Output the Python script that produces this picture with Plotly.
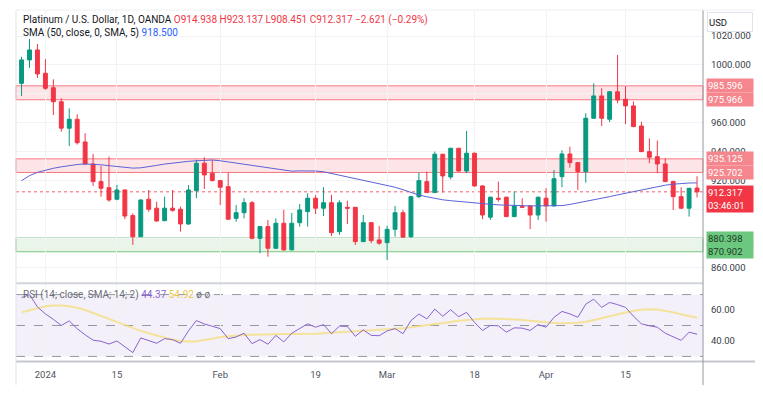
import plotly.graph_objects as go
import pandas as pd

# ---------------- data ----------------
dates = [d.strftime("%Y-%m-%d") for d in pd.bdate_range("2023-12-27", "2024-04-26")
         if d.strftime("%Y-%m-%d") not in ("2024-01-01", "2024-03-29")]

opens = [987.3, 1003.5, 1010.4, 994.3, 984.3, 974.6, 956.3, 962.5, 946.8, 931.6,
         919.4, 915.2, 907.2, 913.6, 895.9, 881.3, 907.2, 901.0, 892.4, 901.0,
         900.3, 890.1, 913.1, 932.1, 925.2, 920.1, 915.9, 894.0, 897.9, 904.8,
         880.2, 888.3, 873.3, 890.6, 872.2, 891.0, 898.6, 907.9, 901.0, 904.8,
         884.8, 901.6, 901.6, 877.9, 891.0, 879.1, 877.2, 886.4, 897.9, 881.3,
         909.0, 919.4, 911.8, 938.3, 922.6, 942.4, 926.7, 939.0, 916.4, 894.8,
         907.9, 908.6, 895.2, 902.1, 902.6, 896.3, 907.9, 902.6, 922.8, 938.5,
         932.5, 926.3, 963.2, 978.6, 962.5, 981.5, 976.3, 971.7, 957.8, 940.1,
         936.6, 931.6, 919.4, 909.0, 901.0, 914.938]
highs = [1005.7, 1018.0, 1014.5, 1004.0, 990.1, 977.0, 970.0, 966.0, 952.8, 938.5,
         930.2, 936.6, 917.1, 914.0, 897.5, 907.0, 913.6, 905.5, 909.0, 913.6,
         902.1, 917.0, 934.5, 936.2, 934.3, 920.5, 925.6, 903.2, 907.9, 906.0,
         888.5, 892.9, 894.0, 899.8, 897.7, 903.9, 911.3, 910.0, 915.5, 910.2,
         906.5, 906.2, 902.0, 896.3, 891.3, 888.8, 888.8, 902.6, 899.8, 909.3,
         925.6, 926.3, 940.1, 938.6, 942.8, 942.8, 954.4, 939.5, 916.8, 909.0,
         919.4, 909.0, 912.5, 907.9, 903.0, 909.0, 914.8, 927.4, 941.0, 943.5,
         932.8, 966.6, 987.3, 983.9, 981.8, 1006.9, 985.5, 974.7, 960.8, 949.3,
         947.7, 935.5, 920.0, 915.5, 915.0, 923.137]
lows = [978.6, 998.0, 991.0, 982.7, 965.4, 953.9, 944.0, 945.0, 931.0, 916.4,
        909.0, 905.5, 906.5, 893.4, 875.6, 881.0, 898.5, 891.5, 892.0, 898.6,
        884.8, 889.5, 907.9, 914.3, 919.5, 903.2, 893.0, 891.6, 894.0, 879.5,
        869.9, 867.5, 873.0, 871.5, 871.8, 888.3, 888.3, 897.0, 895.6, 881.8,
        882.5, 890.1, 875.6, 877.5, 876.8, 875.8, 865.2, 881.3, 880.5, 880.5,
        907.9, 911.5, 911.5, 911.8, 921.0, 926.3, 925.2, 915.8, 893.4, 892.9,
        905.5, 894.8, 894.8, 901.2, 886.5, 892.9, 891.7, 902.2, 915.5, 929.0,
        913.6, 918.7, 962.8, 957.8, 960.5, 973.5, 959.2, 957.0, 939.8, 932.1,
        925.2, 919.0, 899.8, 900.5, 895.2, 908.451]
closes = [1003.5, 1010.4, 993.8, 983.9, 974.6, 956.3, 962.5, 946.3, 931.6, 919.4,
          914.8, 906.7, 913.6, 895.6, 881.3, 906.7, 900.3, 892.2, 901.0, 899.5,
          890.1, 913.6, 932.1, 924.0, 920.1, 915.5, 893.4, 897.9, 904.8, 880.2,
          888.3, 873.3, 890.6, 872.2, 890.6, 899.8, 907.9, 901.0, 904.8, 884.1,
          904.8, 901.0, 877.9, 891.0, 878.6, 876.8, 886.4, 897.9, 881.0, 909.0,
          920.1, 911.8, 938.3, 923.3, 942.4, 926.7, 939.0, 916.4, 896.3, 908.6,
          907.2, 895.2, 902.6, 901.7, 896.3, 908.6, 902.6, 921.4, 938.5, 932.5,
          926.3, 963.2, 978.6, 963.2, 981.5, 975.8, 971.7, 957.4, 940.1, 936.2,
          931.6, 919.4, 909.0, 901.0, 914.8, 912.317]

sma50 = [920.0, 923.5, 925.8, 927.3, 928.6, 929.6, 930.5, 931.2, 931.6, 931.5,
         931.0, 930.4, 929.7, 929.1, 928.7, 928.9, 929.5, 930.6, 931.5, 932.3,
         932.9, 933.4, 933.8, 934.1, 934.3, 933.8, 933.0, 932.2, 931.3, 930.4,
         929.6, 928.7, 927.9, 927.1, 926.6, 926.8, 927.0, 926.7, 926.2, 925.0,
         923.7, 922.6, 921.5, 920.3, 919.2, 918.0, 916.7, 915.5, 913.8, 912.0,
         910.1, 908.9, 907.8, 906.8, 906.2, 905.6, 905.0, 904.5, 904.1, 903.7,
         903.3, 903.0, 902.8, 902.7, 902.6, 902.6, 902.6, 902.6, 902.8, 903.6,
         904.6, 905.7, 906.8, 907.9, 909.0, 910.2, 911.4, 912.5, 913.6, 914.7,
         915.8, 916.9, 917.6, 918.1, 918.4, 918.5]

rsi = [68.0, 70.0, 62.0, 57.5, 54.0, 50.0, 53.0, 47.9, 44.0, 40.5,
       39.8, 38.0, 40.0, 36.0, 32.5, 42.0, 40.5, 38.5, 41.5, 40.9,
       38.5, 46.5, 53.2, 51.0, 49.5, 48.0, 41.5, 42.6, 45.0, 38.3,
       40.9, 37.9, 43.6, 39.4, 45.0, 48.0, 51.1, 48.9, 50.6, 44.7,
       49.6, 49.4, 43.0, 47.2, 43.6, 43.4, 46.5, 48.0, 44.7, 53.2,
       57.4, 54.3, 60.6, 56.0, 60.2, 55.7, 58.5, 52.0, 46.8, 50.0,
       49.8, 45.7, 48.5, 48.3, 46.8, 50.6, 48.9, 55.3, 59.1, 57.5,
       55.3, 63.8, 67.0, 61.7, 64.9, 63.5, 61.7, 56.0, 51.1, 49.8,
       48.9, 45.0, 42.6, 40.4, 45.7, 44.37]

rsi_ma = [58.5, 60.0, 61.5, 62.5, 63.0, 63.0, 62.5, 61.5, 60.0, 58.0,
          56.0, 54.0, 52.0, 50.0, 48.0, 46.5, 45.0, 43.5, 42.0, 40.8,
          40.0, 39.6, 39.8, 40.5, 41.5, 42.5, 43.0, 43.5, 43.8, 44.0,
          44.2, 44.3, 44.4, 44.5, 44.5, 44.5, 44.6, 44.7, 45.0, 45.3,
          45.6, 45.9, 46.2, 46.5, 46.8, 47.1, 47.4, 47.8, 48.3, 48.9,
          49.5, 50.2, 50.9, 51.6, 52.3, 53.0, 53.6, 54.0, 54.3, 54.5,
          54.4, 54.2, 53.9, 53.5, 53.0, 52.5, 52.0, 51.6, 51.5, 51.5,
          51.8, 52.5, 53.5, 54.7, 56.0, 57.3, 58.5, 59.5, 60.2, 60.5,
          60.3, 59.5, 58.5, 57.3, 56.2, 55.0]

tick_dates = ["2024-01-02", "2024-01-15", "2024-02-01", "2024-02-19",
              "2024-03-01", "2024-03-18", "2024-04-01", "2024-04-15"]
tick_text = ["2024", "15", "Feb", "19", "Mar", "18", "Apr", "15"]
price_ticks = [860, 880, 900, 920, 940, 960, 980, 1000, 1020]
price_tick_text = ["860.000", "", "", "920.000", "940.000", "960.000", "", "1000.000", "1020.000"]

resistance_hi = (975.966, 985.596)
resistance_mid = (925.702, 935.125)
support = (870.902, 880.398)
last_price = 912.317

# ---------------- style ----------------
GREEN = "#089981"
RED = "#f23645"
GRID = "#f2f3f7"
FONT = "Roboto, Arial, sans-serif"

fig = go.Figure()
fig.add_trace(go.Candlestick(
    x=dates, open=opens, high=highs, low=lows, close=closes,
    increasing=dict(line=dict(color=GREEN, width=1), fillcolor=GREEN),
    decreasing=dict(line=dict(color=RED, width=1), fillcolor=RED),
    whiskerwidth=0, showlegend=False, hoverinfo="skip", xaxis="x", yaxis="y"))
fig.add_trace(go.Scatter(x=dates, y=sma50, mode="lines",
                         line=dict(color="#5b62d6", width=1), showlegend=False,
                         hoverinfo="skip", xaxis="x", yaxis="y"))
fig.add_trace(go.Scatter(x=dates, y=rsi_ma, mode="lines",
                         line=dict(color="rgba(246,222,120,0.75)", width=2), showlegend=False,
                         hoverinfo="skip", xaxis="x2", yaxis="y2"))
fig.add_trace(go.Scatter(x=dates, y=rsi, mode="lines",
                         line=dict(color="#8a63cf", width=1), showlegend=False,
                         hoverinfo="skip", xaxis="x2", yaxis="y2"))

shapes = []
for lo, hi in (resistance_hi, resistance_mid):
    shapes.append(dict(type="rect", xref="x domain", yref="y", x0=0, x1=1, y0=lo, y1=hi,
                       fillcolor="rgba(242,54,69,0.13)", line=dict(color="rgba(242,54,69,0.65)", width=1),
                       layer="below"))
shapes.append(dict(type="rect", xref="x domain", yref="y", x0=0, x1=1, y0=support[0], y1=support[1],
                   fillcolor="rgba(76,175,80,0.13)", line=dict(color="rgba(76,175,80,0.7)", width=1),
                   layer="below"))
shapes.append(dict(type="line", xref="x domain", yref="y", x0=0, x1=1, y0=last_price, y1=last_price,
                   line=dict(color="rgba(242,54,69,0.8)", width=1, dash="dot"), layer="below"))
shapes.append(dict(type="rect", xref="x2 domain", yref="y2", x0=0, x1=1, y0=30, y1=70,
                   fillcolor="rgba(126,87,194,0.09)", line=dict(width=0), layer="below"))
for lv in (70, 50, 30):
    shapes.append(dict(type="line", xref="x2 domain", yref="y2", x0=0, x1=1, y0=lv, y1=lv,
                       line=dict(color="#9598a1", width=1, dash="dash"), layer="below"))
shapes.append(dict(type="line", xref="paper", yref="paper", x0=0, x1=1, y0=0.2195, y1=0.2195,
                   line=dict(color="#d1d4dc", width=2)))
shapes.append(dict(type="line", xref="paper", yref="paper", x0=0, x1=1.16, y0=-0.004, y1=-0.004,
                   line=dict(color="#c4c7cf", width=2)))
shapes.append(dict(type="line", xref="paper", yref="paper", x0=1, x1=1, y0=-0.072, y1=1,
                   line=dict(color="#9598a1", width=1)))
shapes.append(dict(type="line", xref="paper", yref="paper", x0=0, x1=0, y0=-0.072, y1=1,
                   line=dict(color="#e0e3eb", width=1)))
shapes.append(dict(type="line", xref="paper", yref="paper", x0=0, x1=1.16, y0=1, y1=1,
                   line=dict(color="#eef0f4", width=1)))

ann = []
ann.append(dict(xref="paper", yref="paper", x=0, y=1, xanchor="left", yanchor="middle",
                xshift=5, yshift=-10, showarrow=False, font=dict(size=10, family=FONT),
                text="<span style='color:#131722'>Platinum / U.S. Dollar, 1D, OANDA</span> "
                     "<span style='color:#f23645'>O914.938 H923.137 L908.451 C912.317 −2.621 (−0.29%)</span>"))
ann.append(dict(xref="paper", yref="paper", x=0, y=1, xanchor="left", yanchor="middle",
                xshift=5, yshift=-23, showarrow=False, font=dict(size=10, family=FONT),
                text="<span style='color:#131722'>SMA (50, close, 0, SMA, 5)</span> "
                     "<span style='color:#2962ff'>918.500</span>"))
ann.append(dict(xref="paper", yref="y2", x=0, y=70, xanchor="left", yanchor="middle",
                xshift=5, showarrow=False, font=dict(size=10, family=FONT),
                text="<span style='color:#6a6d78'>RSI (14; close, SMA; 14; 2)</span> "
                     "<span style='color:#8a63cf'>44.37</span> "
                     "<span style='color:#e8c94a'>54.92</span> "
                     "<span style='color:#6a6d78'>ø ø</span>"))
ann.append(dict(xref="paper", yref="paper", x=1, y=1, xanchor="left", yanchor="top",
                xshift=4, yshift=-2, showarrow=False, text="USD", align="left",
                width=42, height=16, bgcolor="white", bordercolor="#e0e3eb", borderwidth=1,
                borderpad=1, font=dict(size=9.5, family=FONT, color="#131722")))


def price_box(val, bg, fg, text=None, height=11, yanchor="middle", yshift=0):
    return dict(xref="paper", yref="y", x=1, y=val, xanchor="left", yanchor=yanchor,
                xshift=3, yshift=yshift, showarrow=False, text=text or f"{val:.3f}",
                width=44, height=height, bgcolor=bg, borderpad=1, align="left",
                font=dict(size=9.5, family=FONT, color=fg))


PINK = "#f6868d"
ann.append(price_box(resistance_hi[1], PINK, "white"))
ann.append(price_box(resistance_hi[0], PINK, "white"))
ann.append(price_box(resistance_mid[1], PINK, "white"))
ann.append(price_box(resistance_mid[0], PINK, "white"))
ann.append(price_box(last_price, RED, "white", text=f"{last_price:.3f}<br>03:46:01",
                     height=24, yanchor="top", yshift=7))
ann.append(price_box(support[1], "#6cc77f", "#1e3b24"))
ann.append(price_box(support[0], "#6cc77f", "#1e3b24"))

# page body adds an 8px offset, so figure is 8px smaller and margins shifted
fig.update_layout(
    width=755, height=387,
    margin=dict(l=8, r=60, t=2, b=35),
    paper_bgcolor="white", plot_bgcolor="white",
    showlegend=False,
    font=dict(family=FONT, size=9.5, color="#131722"),
    shapes=shapes, annotations=ann,
    xaxis=dict(domain=[0, 1], anchor="y", type="category", range=[-0.7, 85.75],
               rangeslider=dict(visible=False), showticklabels=False,
               tickvals=tick_dates, showgrid=True, gridcolor=GRID, gridwidth=1,
               zeroline=False, showline=False, ticks=""),
    yaxis=dict(domain=[0.22, 1], anchor="x", side="right", range=[849.3, 1038],
               tickvals=price_ticks, ticktext=price_tick_text, showgrid=True, gridcolor=GRID,
               zeroline=False, showline=False, ticks="", ticklabelstandoff=7,
               tickfont=dict(size=9.5, color="#3a3d47")),
    xaxis2=dict(domain=[0, 1], anchor="y2", type="category", range=[-0.7, 85.75],
                matches="x", tickvals=tick_dates, ticktext=tick_text, showgrid=True,
                gridcolor=GRID, zeroline=False, showline=False, ticks="",
                ticklabelstandoff=7, tickfont=dict(size=9.5, color="#50535e")),
    yaxis2=dict(domain=[0, 0.217], anchor="x2", side="right", range=[27.7, 76.8],
                tickvals=[40, 60], tickformat=".2f", showgrid=False, zeroline=False,
                showline=False, ticks="", ticklabelstandoff=7,
                tickfont=dict(size=9.5, color="#3a3d47")),
)

fig.write_html("out.html")
